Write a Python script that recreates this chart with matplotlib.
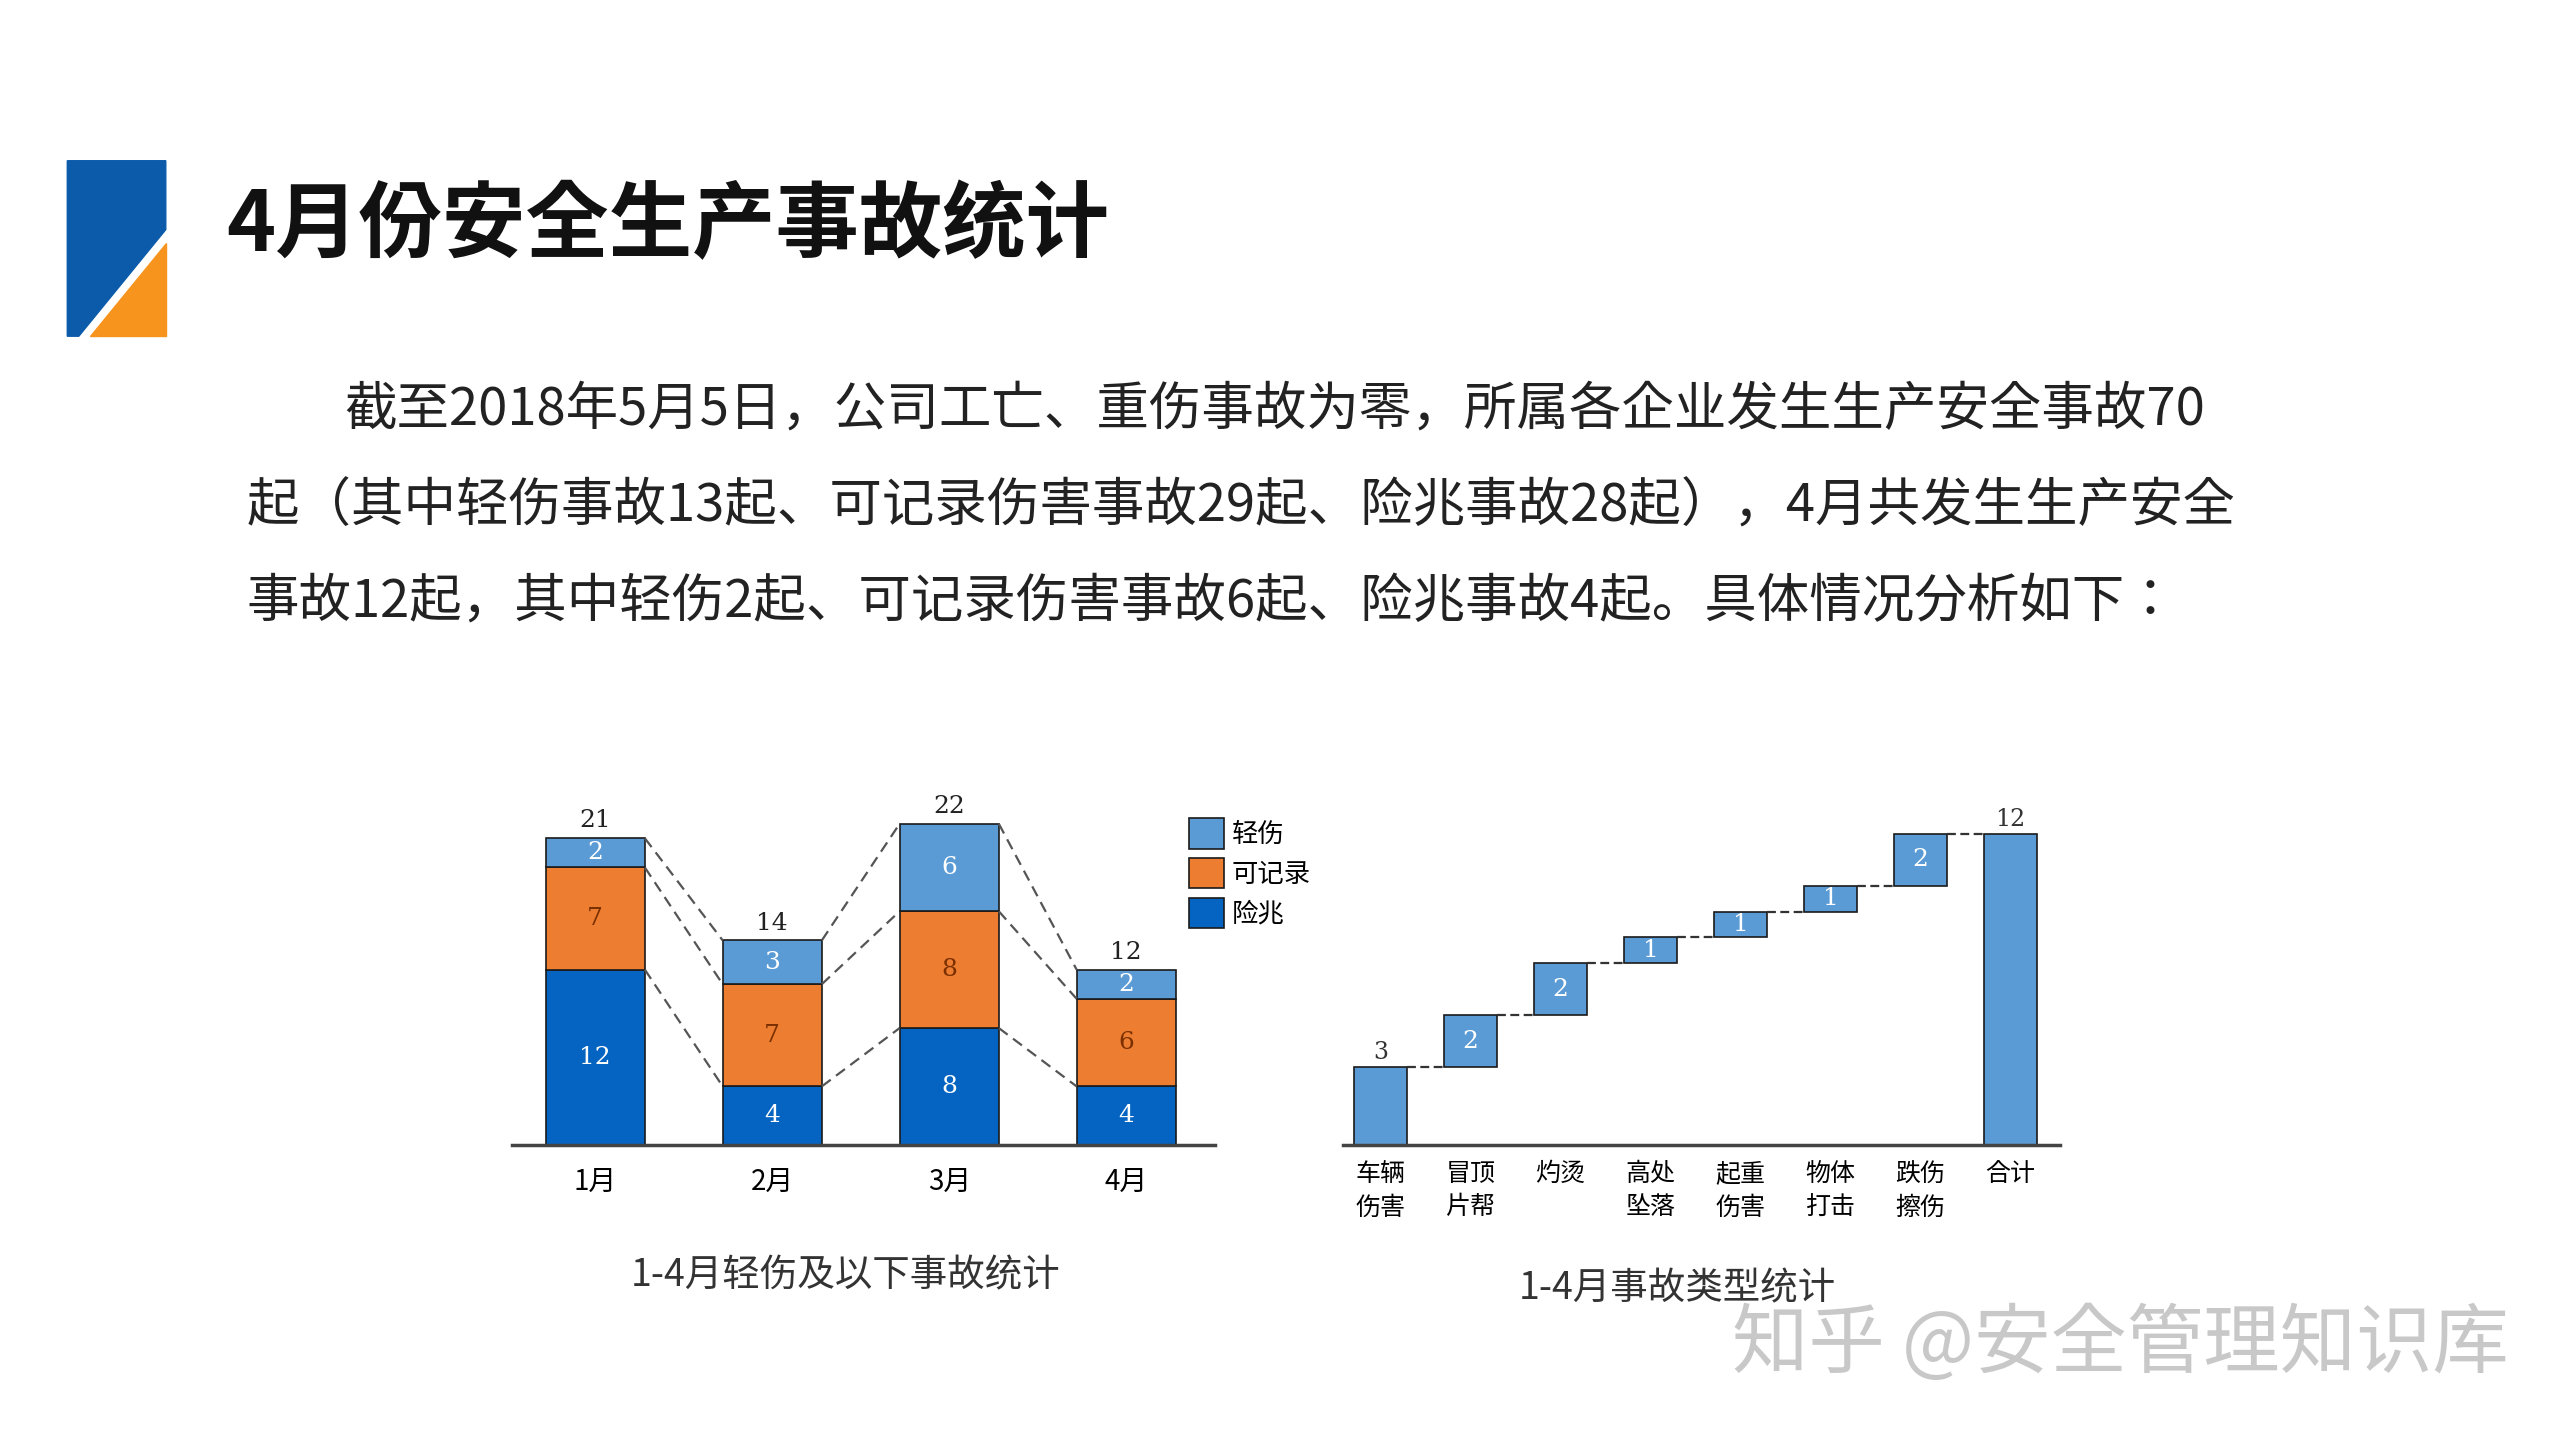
import matplotlib
matplotlib.use("Agg")
import matplotlib.pyplot as plt
from matplotlib.patches import Polygon
from matplotlib import font_manager as fm

names = sorted({f.name for f in fm.fontManager.ttflist})
cjk = [n for n in names if "CJK" in n]
pref = [n for n in cjk if "SC" in n] or cjk
CJK = pref[0] if pref else "DejaVu Sans"
plt.rcParams["font.family"] = [CJK, "DejaVu Sans"]

months = ["1月", "2月", "3月", "4月"]
s_light = [2, 3, 6, 2]      # 轻伤
s_record = [7, 7, 8, 6]     # 可记录
s_near = [12, 4, 8, 4]      # 险兆
totals = [21, 14, 22, 12]
series_names = ["轻伤", "可记录", "险兆"]

types = ["车辆\n伤害", "冒顶\n片帮", "灼烫", "高处\n坠落", "起重\n伤害", "物体\n打击", "跌伤\n擦伤", "合计"]
type_vals = [3, 2, 2, 1, 1, 1, 2]
type_total = 12

C_LIGHT = "#5B9BD5"
C_ORANGE = "#ED7D31"
C_DARK = "#0563C1"
W, H = 1559.0, 878.0

fig = plt.figure(figsize=(25.59, 14.40), dpi=100)

def fx(x): return x / W
def fy(y): return 1 - y / H

la = fig.add_axes([0, 0, 1, 1], facecolor="none")
la.set_xlim(0, W); la.set_ylim(H, 0); la.axis("off")
la.add_patch(Polygon([(41, 98), (101, 98), (101, 140), (48, 205), (41, 205)], color="#0B5BAA"))
la.add_patch(Polygon([(101, 148), (101, 205), (55, 205)], color="#F7941D"))
la.text(138, 138, "4月份安全生产事故统计", fontsize=60, fontweight="bold", va="center", ha="left", color="#111111")
para = [(210, 250, "截至2018年5月5日，公司工亡、重伤事故为零，所属各企业发生生产安全事故70"),
        (150, 309, "起（其中轻伤事故13起、可记录伤害事故29起、险兆事故28起），4月共发生生产安全"),
        (150, 367, "事故12起，其中轻伤2起、可记录伤害事故6起、险兆事故4起。具体情况分析如下：")]
for x, y, t in para:
    la.text(x, y, t, fontsize=37.8, va="center", ha="left", color="#222222")
la.text(515, 778, "1-4月轻伤及以下事故统计", fontsize=27, ha="center", va="center", color="#333333")
la.text(1022, 786, "1-4月事故类型统计", fontsize=27, ha="center", va="center", color="#333333")
la.text(1292, 820, "知乎 @安全管理知识库", fontsize=55, ha="center", va="center", color="#BBBBBB", alpha=0.8)

top1 = 698 - 24 * 8.9
ax1 = fig.add_axes([fx(312), fy(698), fx(740) - fx(312), fy(top1) - fy(698)])
ax1.set_xlim(-0.47, 3.5); ax1.set_ylim(0, 24)
x = list(range(4)); bw = 0.56
b1 = ax1.bar(x, s_near, bw, color=C_DARK, edgecolor="#1a1a1a", linewidth=1.2)
b2 = ax1.bar(x, s_record, bw, bottom=s_near, color=C_ORANGE, edgecolor="#1a1a1a", linewidth=1.2)
bot3 = [a + b for a, b in zip(s_near, s_record)]
b3 = ax1.bar(x, s_light, bw, bottom=bot3, color=C_LIGHT, edgecolor="#1a1a1a", linewidth=1.2)
for i in range(4):
    ax1.text(i, s_near[i] / 2, str(s_near[i]), ha="center", va="center", color="white", fontsize=18, family="DejaVu Serif")
    ax1.text(i, s_near[i] + s_record[i] / 2, str(s_record[i]), ha="center", va="center", color="#7a3000", fontsize=18, family="DejaVu Serif")
    ax1.text(i, bot3[i] + s_light[i] / 2, str(s_light[i]), ha="center", va="center", color="white", fontsize=18, family="DejaVu Serif")
    ax1.text(i, totals[i] + 0.4, str(totals[i]), ha="center", va="bottom", color="#222222", fontsize=18, family="DejaVu Serif")
for i in range(3):
    for lv in (s_near, bot3, totals):
        ax1.plot([i + bw / 2, i + 1 - bw / 2], [lv[i], lv[i + 1]], ls=(0, (5, 3)), color="#555555", lw=1.6)
for s in ("top", "right", "left"):
    ax1.spines[s].set_visible(False)
ax1.spines["bottom"].set_linewidth(2.5); ax1.spines["bottom"].set_color("#444444")
ax1.set_yticks([])
ax1.set_xticks(x); ax1.set_xticklabels(months, fontsize=20)
ax1.tick_params(axis="x", length=0, pad=16)
ax1.legend([b3, b2, b1], series_names, loc="upper left", bbox_to_anchor=(0.93, 1.0), frameon=False,
           fontsize=19, handlelength=1.3, handleheight=1.4, labelspacing=0.35, handletextpad=0.3)

top2 = 698 - 13 * 15.8
ax2 = fig.add_axes([fx(818), fy(698), fx(1255) - fx(818), fy(top2) - fy(698)])
ax2.set_xlim(-0.42, 7.55); ax2.set_ylim(0, 13)
bw2 = 0.58
cum = 0
bottoms = []
for v in type_vals:
    bottoms.append(cum); cum += v
xs = list(range(len(types)))
ax2.bar(xs[:-1], type_vals, bw2, bottom=bottoms, color=C_LIGHT, edgecolor="#1a1a1a", linewidth=1.2)
ax2.bar([xs[-1]], [type_total], bw2, color=C_LIGHT, edgecolor="#1a1a1a", linewidth=1.2)
ax2.text(0, type_vals[0] + 0.1, str(type_vals[0]), ha="center", va="bottom", fontsize=17, family="DejaVu Serif", color="#333333")
for i in range(1, len(type_vals)):
    ax2.text(i, bottoms[i] + type_vals[i] / 2, str(type_vals[i]), ha="center", va="center", color="white", fontsize=18, family="DejaVu Serif")
ax2.text(7, type_total + 0.1, str(type_total), ha="center", va="bottom", fontsize=17, family="DejaVu Serif", color="#333333")
ends = [b + v for b, v in zip(bottoms, type_vals)]
for i in range(len(type_vals)):
    ax2.plot([i + bw2 / 2, i + 1 - bw2 / 2], [ends[i], ends[i]], ls=(0, (4, 2)), color="#333333", lw=1.6)
for s in ("top", "right", "left"):
    ax2.spines[s].set_visible(False)
ax2.spines["bottom"].set_linewidth(2.5); ax2.spines["bottom"].set_color("#444444")
ax2.set_yticks([])
ax2.set_xticks(xs); ax2.set_xticklabels(types, fontsize=18, va="top", linespacing=1.35)
ax2.tick_params(axis="x", length=0, pad=12)

fig.savefig("out.png", dpi=100, facecolor="white")
